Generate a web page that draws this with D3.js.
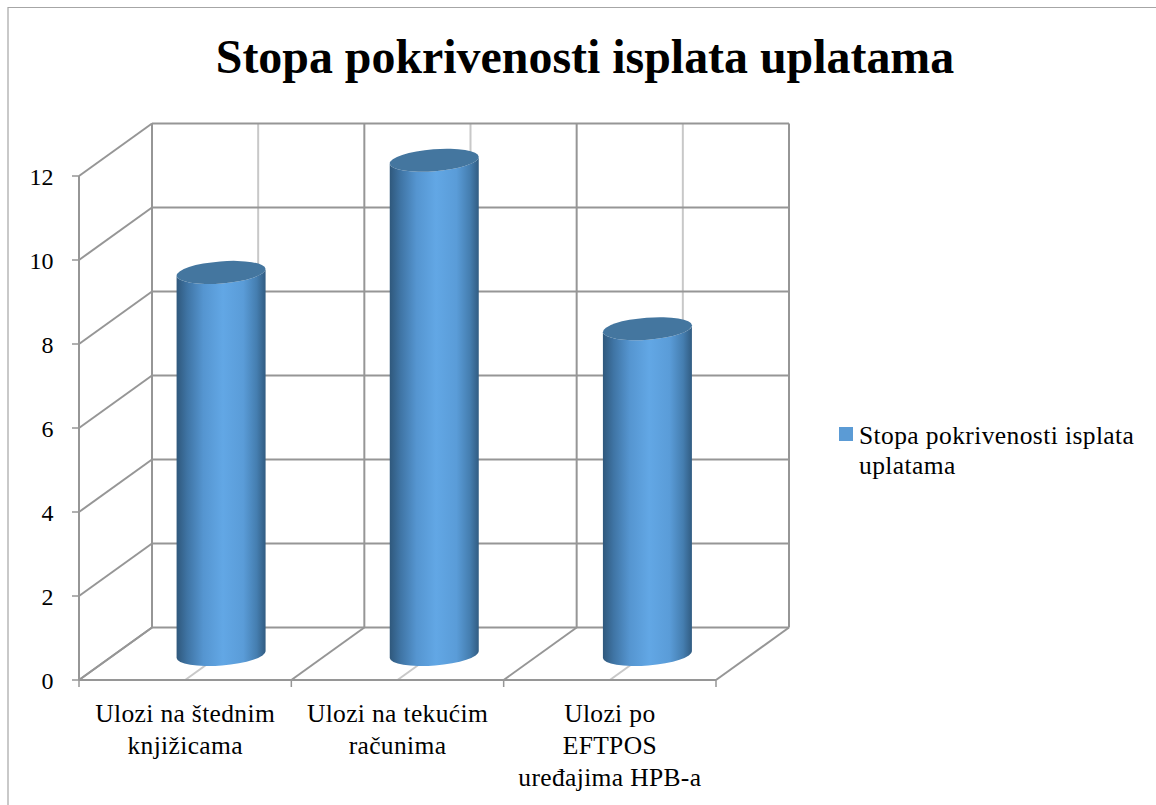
<!DOCTYPE html>
<html><head><meta charset="utf-8">
<script src="https://cdn.jsdelivr.net/npm/d3@7"></script>
<style>html,body{margin:0;padding:0;background:#fff}svg{display:block}text{font-family:"Liberation Serif",serif;fill:#000}</style>
</head><body><svg id="c" width="1156" height="805"></svg>
<script>
const chartTitle = "Stopa pokrivenosti isplata uplatama";
const seriesName = ["Stopa pokrivenosti isplata", "uplatama"];
const categories = ["a","b","c"];
const categoryLines = [["Ulozi na štednim","knjižicama"],["Ulozi na tekućim","računima"],["Ulozi po","EFTPOS","uređajima HPB-a"]];
const values = [9.08, 11.75, 7.74];
const yTicks = [0,2,4,6,8,10,12];

const svg = d3.select("#c");
const x = d3.scaleBand().domain(categories).range([79,716]);
const xMid = d3.scaleBand().domain(categories).range([114.5,754]);
const y = d3.scaleLinear().domain([0,12]).range([680,176]);
const depth = {dx:73, dy:-52.5};
const dark="#969696", light="#c8c8c8";
const defs = svg.append("defs");
const g = defs.append("linearGradient").attr("id","cyl").attr("x1","0").attr("x2","1").attr("y1","0").attr("y2","0");
[[0,"#2f587c"],[0.12,"#3f74a4"],[0.3,"#5595d0"],[0.52,"#62a7e5"],[0.75,"#5a9cd8"],[0.9,"#457eb0"],[1,"#315c82"]]
  .forEach(([o,c])=>g.append("stop").attr("offset",o).attr("stop-color",c));

// frame
svg.append("path").attr("d","M8,806V7.5H1156").attr("fill","none").attr("stroke","#a6a6a6").attr("stroke-width",1.2);

const line=(x1,y1,x2,y2,c,w)=>svg.append("line").attr("x1",x1).attr("y1",y1).attr("x2",x2).attr("y2",y2).attr("stroke",c).attr("stroke-width",w);
const x0=x.range()[0], x1=x.range()[1];
const boundaries = [x0,...categories.map(c=>x(c)+x.bandwidth())];
const mids = categories.map(c=>x(c)+x.bandwidth()/2);

// light midline gridlines on back wall and floor
mids.forEach(m=>{
  line(m+depth.dx,y(12)+depth.dy,m+depth.dx,y(0)+depth.dy,light,2);
  line(m,y(0),m+depth.dx,y(0)+depth.dy,light,2);
});
// value gridlines: side wall + back wall
yTicks.forEach(t=>{
  line(x0,y(t),x0+depth.dx,y(t)+depth.dy,dark,2);
  line(x0+depth.dx,y(t)+depth.dy,x1+depth.dx,y(t)+depth.dy,dark,2);
});
// category boundary gridlines
boundaries.forEach(b=>{
  line(b+depth.dx,y(12)+depth.dy,b+depth.dx,y(0)+depth.dy,dark,2);
  line(b,y(0),b+depth.dx,y(0)+depth.dy,dark,2);
  line(b,y(0),b,y(0)+7,dark,1.5);
});
// axes
line(x0,y(12),x0,y(0),dark,2);
line(x0,y(0),x1,y(0),dark,2.2);
yTicks.forEach(t=>{
  line(x0-7,y(t),x0,y(t),dark,1.5);
  svg.append("text").attr("x",53.5).attr("y",y(t)+9).attr("text-anchor","end").attr("font-size",24).text(t);
});
categories.forEach((c,i)=>{
  const m=x(c)+x.bandwidth()/2;
  categoryLines[i].forEach((l,j)=>svg.append("text").attr("x",m).attr("y",722+j*32).attr("text-anchor","middle").attr("font-size",25.5).attr("letter-spacing",0.35).text(l));
});

// cylinders
const rx=44.5, ry=11, tilt=3.5;
categories.forEach((c,i)=>{
  const cx=xMid(c)+xMid.bandwidth()/2;
  const yb=y(0)+depth.dy/2+0.75, yt=y(values[i])+depth.dy/2;
  const rot=-Math.atan2(tilt,rx)*180/Math.PI;
  const A=`A${rx},${ry} ${rot} 0`;
  const L=cx-rx, R=cx+rx;
  svg.append("path").attr("fill","url(#cyl)")
    .attr("d",`M${L},${yt+tilt}L${L},${yb+tilt}${A} 0 ${R},${yb-tilt}L${R},${yt-tilt}${A} 1 ${L},${yt+tilt}Z`);
  svg.append("path").attr("fill","#44769f")
    .attr("d",`M${L},${yt+tilt}${A} 1 ${R},${yt-tilt}${A} 1 ${L},${yt+tilt}Z`);
});

// title
svg.append("text").attr("x",585).attr("y",73).attr("text-anchor","middle").attr("font-size",47.9).attr("font-weight","bold").text(chartTitle);
// legend
svg.append("rect").attr("x",839).attr("y",427).attr("width",14).attr("height",14).attr("fill","#5b9bd5");
seriesName.forEach((s,j)=>svg.append("text").attr("x",859).attr("y",443.5+j*30.5).attr("font-size",25.5).attr("letter-spacing",0.4).text(s));
</script></body></html>
